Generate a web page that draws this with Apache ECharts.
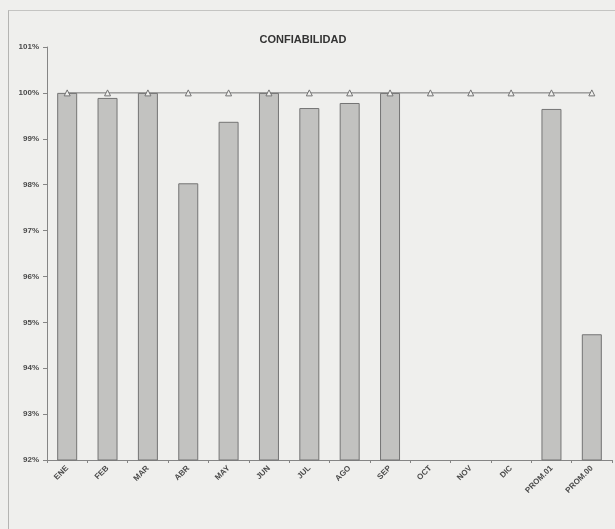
<!DOCTYPE html>
<html>
<head>
<meta charset="utf-8">
<style>
  html, body { margin: 0; padding: 0; background: #efefed; }
  #frame { position: absolute; left: 8px; top: 10px; width: 640px; height: 560px; border-left: 1px solid #b4b4b2; border-top: 1px solid #c4c4c2; }
  #chart { position: absolute; left: 0; top: 0; width: 615px; height: 529px; }
</style>
<script src="https://cdn.jsdelivr.net/npm/echarts@6/dist/echarts.min.js"></script>
</head>
<body>
<div id="frame"></div>
<div id="chart"></div>
<script>
// Monthly reliability (%) plus yearly averages
const categories = ['ENE', 'FEB', 'MAR', 'ABR', 'MAY', 'JUN', 'JUL', 'AGO', 'SEP', 'OCT', 'NOV', 'DIC', 'PROM.01', 'PROM.00'];
const confiabilidad = [100, 99.89, 100, 98.03, 99.37, 100, 99.67, 99.78, 100, null, null, null, 99.65, 94.74];
const meta = [100, 100, 100, 100, 100, 100, 100, 100, 100, 100, 100, 100, 100, 100];
const yTicks = { min: 92, max: 101, interval: 1 };

const chart = echarts.init(document.getElementById('chart'), null, { renderer: 'canvas' });
chart.setOption({
  backgroundColor: 'transparent',
  animation: false,
  title: {
    text: 'CONFIABILIDAD',
    left: 298, top: 29, textAlign: 'center',
    textStyle: { fontFamily: 'Liberation Sans, Arial', fontSize: 11, fontWeight: 'bold', color: '#333' }
  },
  grid: { left: 47, right: 3, top: 47, bottom: 69 },
  xAxis: {
    type: 'category',
    data: categories,
    boundaryGap: true,
    axisLine: { lineStyle: { color: '#858585', width: 1 } },
    axisTick: { show: true, alignWithLabel: false, length: 3, lineStyle: { color: '#858585' } },
    axisLabel: {
      rotate: 45, interval: 0, margin: 7,
      fontFamily: 'Liberation Sans, Arial', fontSize: 8, fontWeight: 'bold', color: '#4a4a4a'
    },
    splitLine: { show: false }
  },
  yAxis: {
    type: 'value',
    min: yTicks.min, max: yTicks.max, interval: yTicks.interval,
    axisLine: { show: true, lineStyle: { color: '#858585', width: 1 } },
    axisTick: { show: true, inside: false, length: 4, lineStyle: { color: '#858585' } },
    axisLabel: {
      margin: 8,
      formatter: v => v + '%',
      fontFamily: 'Liberation Sans, Arial', fontSize: 8, fontWeight: 'bold', color: '#4a4a4a'
    },
    splitLine: { show: false }
  },
  series: [
    {
      type: 'bar',
      data: confiabilidad,
      barWidth: 20,
      itemStyle: { color: '#c2c2c0', borderColor: '#747474', borderWidth: 1 },
      z: 2
    },
    {
      type: 'line',
      data: meta,
      symbol: 'triangle',
      symbolSize: 6,
      lineStyle: { color: '#747474', width: 1 },
      itemStyle: { color: '#efefed', borderColor: '#747474', borderWidth: 1 },
      z: 3
    }
  ]
});
</script>
</body>
</html>
